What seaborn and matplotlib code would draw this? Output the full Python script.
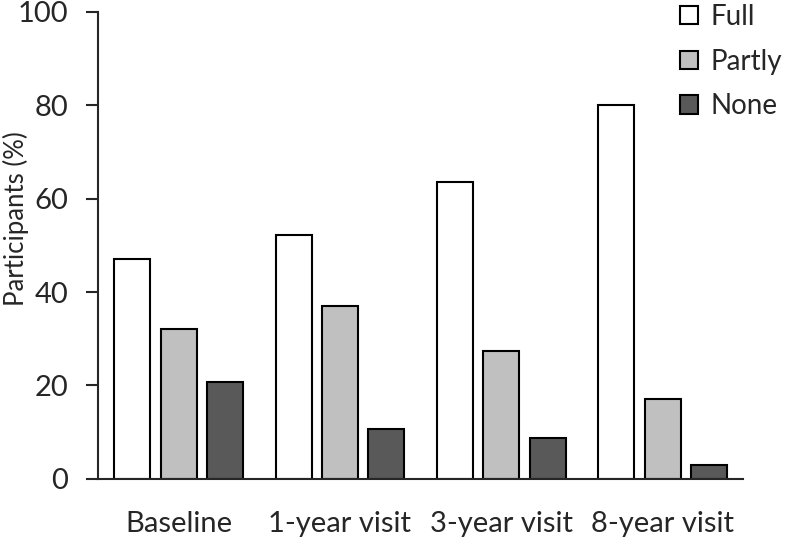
import pandas as pd
import seaborn as sns
import matplotlib.pyplot as plt

visits = ["Baseline", "1-year visit", "3-year visit", "8-year visit"]
full = [47.0, 52.3, 63.5, 80.0]
partly = [32.0, 37.0, 27.3, 17.0]
none = [20.8, 10.7, 8.8, 3.0]

df = pd.DataFrame({
    "visit": visits * 3,
    "level": ["Full"] * 4 + ["Partly"] * 4 + ["None"] * 4,
    "pct": full + partly + none,
})

sns.set_style("ticks")
plt.rcParams["font.family"] = ["Lato", "DejaVu Sans"]

fig = plt.figure(figsize=(7.87, 5.38), dpi=100)
ax = fig.add_axes([0.1245, 0.11, 0.82, 0.868])

palette = {"Full": "#ffffff", "Partly": "#c0c0c0", "None": "#595959"}
sns.barplot(data=df, x="visit", y="pct", hue="level", palette=palette,
            width=0.86, gap=0.22, edgecolor="black", linewidth=1.5, ax=ax)

ax.set_ylim(0, 100)
ax.set_yticks([0, 20, 40, 60, 80, 100])
ax.set_xlim(-0.5, 3.5)
ax.set_xlabel("")
ax.set_ylabel("Participants (%)", fontsize=18.5)
ax.yaxis.set_label_coords(-0.107, 0.557)
ax.tick_params(axis="y", labelsize=21, length=9, width=1.5, direction="out", pad=12.5)
ax.tick_params(axis="x", labelsize=21, length=0, pad=23)
sns.despine(ax=ax)
for s in ["left", "bottom"]:
    ax.spines[s].set_linewidth(1.5)

ax.legend(loc="upper right", bbox_to_anchor=(1.099, 1.071), frameon=False, fontsize=20,
          handlelength=0.65, handleheight=0.65, labelspacing=0.68, handletextpad=0.45)

fig.savefig("out.png", dpi=100)
